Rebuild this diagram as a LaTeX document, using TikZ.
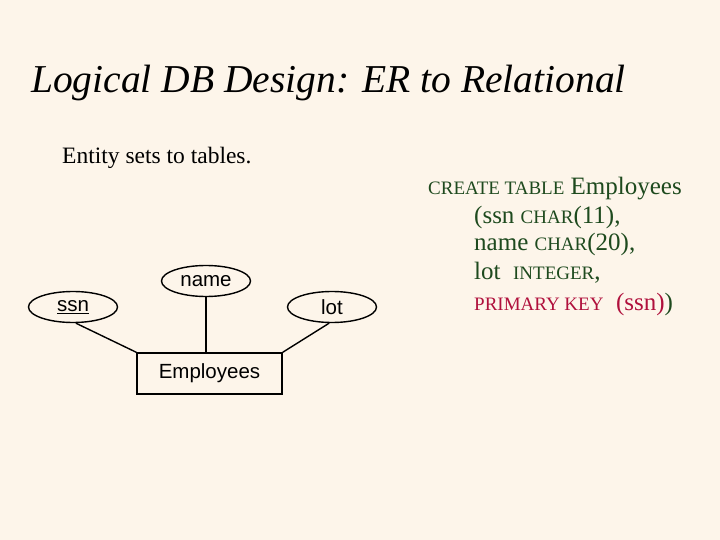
\documentclass[tikz,border=0pt]{standalone}
\usepackage{fontspec}
\setmainfont{Liberation Serif}
\newfontfamily\arialf{Liberation Sans}
\usetikzlibrary{shapes.geometric}
\definecolor{bgc}{HTML}{FDF5EA}
\definecolor{sqlg}{HTML}{1E4A1E}
\definecolor{sqlr}{HTML}{B0103C}
\begin{document}
\begin{tikzpicture}[x=1pt,y=-1pt,
  attr/.style={draw,ellipse,line width=1.4pt,minimum width=89pt,minimum height=31pt,inner sep=0pt,font=\arialf\fontsize{20.5}{22}\selectfont},
  ent/.style={draw,rectangle,line width=1.4pt,minimum width=145pt,minimum height=41pt,inner sep=0pt,font=\arialf\fontsize{20.5}{22}\selectfont},
  conn/.style={line width=1.4pt},
  sql/.style={anchor=base west,inner sep=0pt,text=sqlg,font=\fontsize{25}{28}\selectfont}]
\fill[bgc] (0,0) rectangle (720,540);
\useasboundingbox (0,0) rectangle (720,540);
\node[anchor=base west,inner sep=0pt,font=\itshape\fontsize{39.5}{44}\selectfont] (title) at (31,93) {Logical DB Design: ER to Relational};
\node[anchor=base west,inner sep=0pt,font=\fontsize{23.5}{26}\selectfont] (sub) at (62,164) {Entity sets to tables.};
\node[attr] (ssn) at (73,307) {\underline{ssn}};
\node[attr] (name) at (206,281) {name};
\node[attr] (lot) at (332,307) {lot};
\node[ent] (emp) at (209.5,373.5) {Employees};
\draw[conn] (ssn.-80) -- (emp.north west);
\draw[conn] (name.south) -- (emp.north-|name.south);
\draw[conn] (lot.-100) -- (emp.north east);
\newcommand{\sm}[1]{{\fontsize{19}{21}\selectfont #1}}
\node[sql] (l1) at (428,195) {\sm{CREATE TABLE} Employees};
\node[sql] (l2) at (474,223) {(ssn \sm{CHAR}(11),};
\node[sql] (l3) at (474,251) {name \sm{CHAR}(20),};
\node[sql] (l4) at (474,279) {lot\ \ \sm{INTEGER},};
\node[sql] (l5) at (474,310) {\textcolor{sqlr}{\sm{PRIMARY KEY}\ \ (ssn)})};
\end{tikzpicture}
\end{document}
